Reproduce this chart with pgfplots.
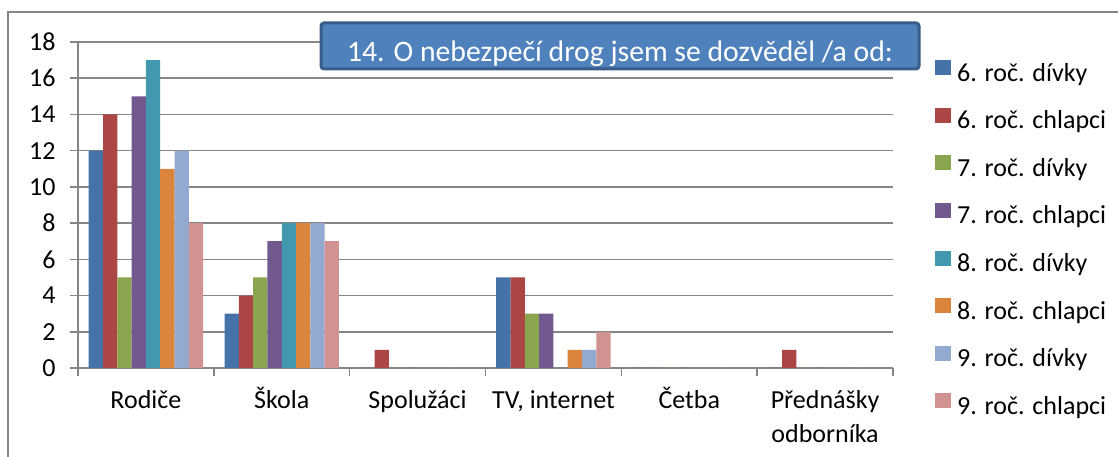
\documentclass[border=0pt]{standalone}
\usepackage{pgfplots}
\pgfplotsset{compat=1.18}
\usepackage{fontspec}
\setmainfont{Carlito}

\definecolor{c1}{RGB}{69,114,167}
\definecolor{c2}{RGB}{170,70,67}
\definecolor{c3}{RGB}{137,165,78}
\definecolor{c4}{RGB}{113,88,143}
\definecolor{c5}{RGB}{65,152,175}
\definecolor{c6}{RGB}{219,132,61}
\definecolor{c7}{RGB}{147,169,207}
\definecolor{c8}{RGB}{209,147,146}
\definecolor{gridc}{RGB}{134,134,134}
\definecolor{boxfill}{RGB}{79,129,189}
\definecolor{boxdraw}{RGB}{56,93,138}

\pgfplotsset{sq/.style={legend image code/.code={\fill[##1] (0pt,0pt) rectangle (16pt,15pt);}}}
\newcommand{\st}{\rule{0pt}{24pt}}

\begin{document}
\begin{tikzpicture}[x=1pt,y=1pt]
\useasboundingbox (0,0) rectangle (1118,457);
% outer chart frame (only left and top edges are visible)
\draw[gridc, line width=1.5pt] (8,-20) -- (8,445) -- (1140,445);
\begin{axis}[
    at={(78pt,89pt)}, anchor=south west,
    width=815pt, height=326pt, scale only axis,
    xmin=-0.5, xmax=5.5, ymin=0, ymax=18,
    ybar=0pt, bar width=14.3pt,
    axis x line=bottom, axis y line=left,
    axis line style={-, draw=gridc, line width=1.5pt},
    ytick={0,2,...,18},
    ymajorgrids, grid style={gridc, line width=1.5pt},
    tick align=outside, major tick length=8pt,
    tick style={gridc, line width=1.5pt},
    xtick={-0.5,0.5,...,5.5}, xticklabels={},
    extra x ticks={0,1,2,3,4,5},
    extra x tick labels={\st Rodiče,\st Škola,\st Spolužáci,{\st TV, internet},\st Četba,{\st Přednášky\\odborníka}},
    extra x tick style={major tick length=0pt},
    xticklabel style={align=center, anchor=north, inner sep=0pt, yshift=-16pt},
    yticklabel style={xshift=-11pt},
    tick label style={font=\fontsize{26}{34.5}\selectfont, black},
    /pgf/number format/assume math mode=true,
    legend style={at={(axis description cs:1.0515,0.9448)}, anchor=north west,
        draw=none, fill=none, inner sep=0pt, row sep=20.6pt,
        font=\fontsize{26}{31.7}\selectfont,
        nodes={inner sep=0pt, inner xsep=6pt, text height=18pt, text depth=6pt}},
    legend cell align=left,
]
\addplot[fill=c1, draw=none, sq] coordinates {(0,12) (1,3) (2,0) (3,5) (4,0) (5,0)};
\addplot[fill=c2, draw=none, sq] coordinates {(0,14) (1,4) (2,1) (3,5) (4,0) (5,1)};
\addplot[fill=c3, draw=none, sq] coordinates {(0,5) (1,5) (2,0) (3,3) (4,0) (5,0)};
\addplot[fill=c4, draw=none, sq] coordinates {(0,15) (1,7) (2,0) (3,3) (4,0) (5,0)};
\addplot[fill=c5, draw=none, sq] coordinates {(0,17) (1,8) (2,0) (3,0) (4,0) (5,0)};
\addplot[fill=c6, draw=none, sq] coordinates {(0,11) (1,8) (2,0) (3,1) (4,0) (5,0)};
\addplot[fill=c7, draw=none, sq] coordinates {(0,12) (1,8) (2,0) (3,1) (4,0) (5,0)};
\addplot[fill=c8, draw=none, sq] coordinates {(0,8) (1,7) (2,0) (3,2) (4,0) (5,0)};
\legend{6. roč. dívky, 6. roč. chlapci, 7. roč. dívky, 7. roč. chlapci,
        8. roč. dívky, 8. roč. chlapci, 9. roč. dívky, 9. roč. chlapci}
\end{axis}
% title box
\draw[boxdraw, line width=3pt, fill=boxfill, rounded corners=3pt] (321,434) rectangle (919,388);
\node[white, font=\fontsize{29.7}{36}\selectfont, anchor=base, inner sep=0pt] at (620,395)
    {14. O nebezpečí drog jsem se dozvěděl /a od:};
\end{tikzpicture}
\end{document}
